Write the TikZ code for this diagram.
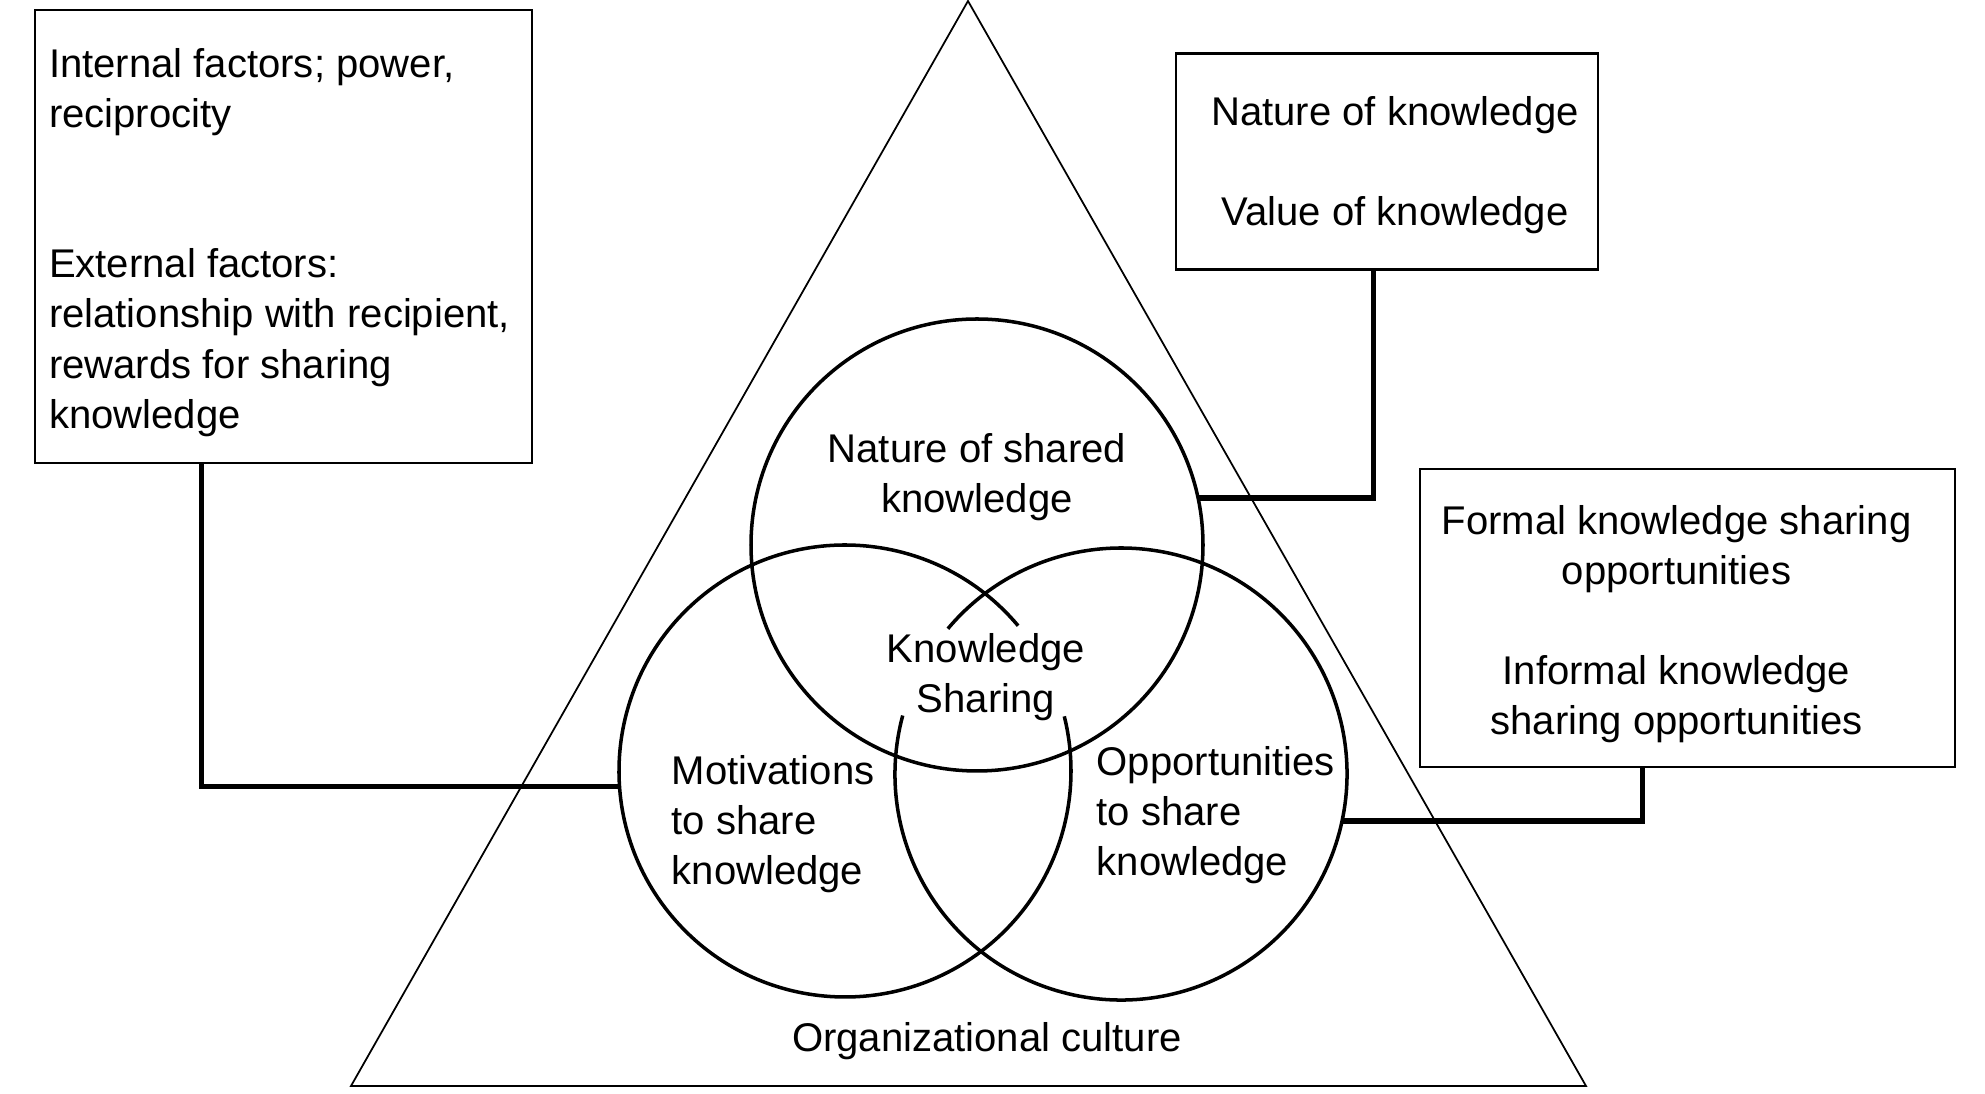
\documentclass[tikz,border=0pt]{standalone}
\usepackage{fontspec}
\setmainfont{Liberation Sans}
\usepackage{tikz}
\usetikzlibrary{positioning}

\begin{document}
\begin{tikzpicture}[
box/.style={
		draw=black,
		line width=0.65pt,
		inner sep=0pt,
		},
ring/.style={
		circle,
		minimum size=2*\radius,
		inner sep=0pt,
		outer sep=0pt,
		},
tag/.style={
		inner sep=0pt,
		font=\fontsize{11.4}{14.25}\selectfont,
		},
link/.style={line width=1.45pt},
]

\useasboundingbox (0,0) rectangle (19.85,10.94);

\def \radius {2.26cm}

% organizational culture
\draw[line width=0.5pt] (9.68,10.93) -- (15.86,0.08) -- (3.51,0.08) -- cycle;

\node[ring, draw, line width=1pt] (shared) at (9.77,5.49) {};
\node[ring] (mot) at (8.45,3.23) {};
\node[ring] (opp) at (11.21,3.20) {};

\foreach \c/\s/\e in {mot/40/374, opp/165/500}
{
  \draw[line width=1pt] (\c.\s) arc[start angle=\s, end angle=\e, radius=\radius];
}

\node[box, minimum width=4.97cm, minimum height=4.53cm] (factors) at (2.835,8.575) {};
\node[box, minimum width=4.22cm, minimum height=2.16cm] (nature) at (13.87,9.325) {};
\node[box, minimum width=5.35cm, minimum height=2.98cm] (chances) at (16.875,4.76) {};

\node[tag, align=left, anchor=west] (factorstxt) at ([xshift=0.145cm, yshift=-0.06cm]factors.west)
  {Internal factors; power,\\ reciprocity\\[28.5pt] External factors:\\ relationship with recipient,\\ rewards for sharing\\ knowledge};
\node[tag, align=center] (naturetxt) at ([xshift=0.08cm, yshift=-0.04cm]nature.center)
  {Nature of knowledge\\[14.25pt] Value of knowledge};
\node[tag, align=center] (chancestxt) at ([xshift=-0.11cm, yshift=-0.06cm]chances.center)
  {Formal knowledge sharing\\ opportunities\\[14.25pt] Informal knowledge\\ sharing opportunities};

\draw[link] (factors.south west) ++(1.68,0) |- (mot.184);
\draw[link] (nature.south west) ++(1.99,0) |- (shared.12);
\draw[link] (chances.south west) ++(2.24,0) |- (opp.-12);

\node[tag, align=center] (sharedtxt) at (9.77,6.17) {Nature of shared\\ knowledge};
\node[tag, align=center] (core) at (9.86,4.17) {Knowledge\\ Sharing};
\node[tag, align=left, anchor=west] (mottxt) at (6.71,2.695) {Motivations\\ to share\\ knowledge};
\node[tag, align=left, anchor=west] (opptxt) at (10.96,2.785) {Opportunities\\ to share\\ knowledge};
\node[tag] (culture) at (9.87,0.53) {Organizational culture};

\end{tikzpicture}
\end{document}
